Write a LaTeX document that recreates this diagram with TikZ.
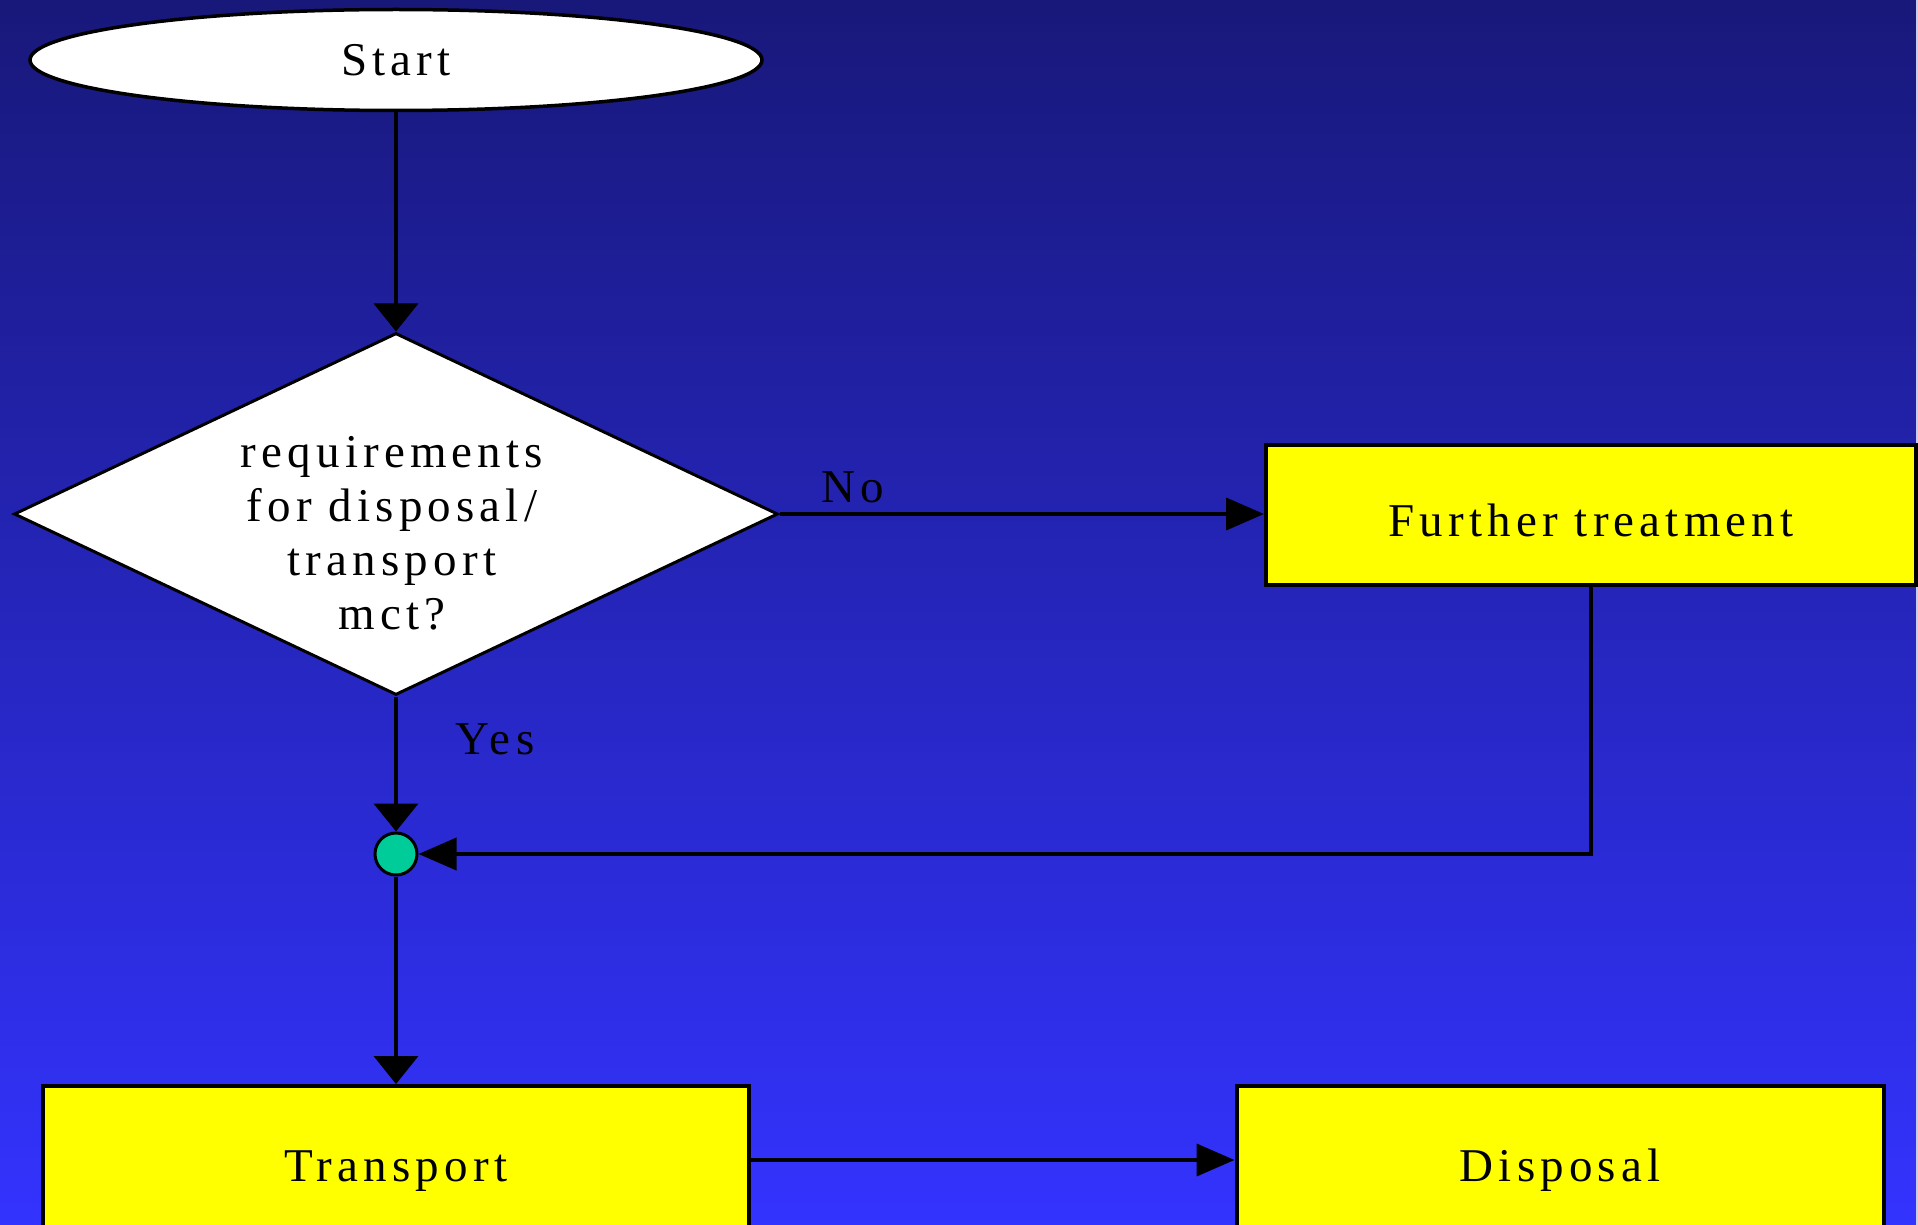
\documentclass[tikz,border=0pt]{standalone}
\usepackage{fontspec}
\setmainfont{Liberation Serif}[LetterSpace=11]
\usetikzlibrary{shapes.geometric,arrows.meta}
\definecolor{bgtop}{RGB}{24,24,122}
\definecolor{bgbot}{RGB}{51,51,255}
\definecolor{boxyellow}{RGB}{255,255,0}
\definecolor{jointeal}{RGB}{0,204,153}
\definecolor{edgestripe}{RGB}{200,204,238}
\tikzset{
  basefont/.style={font=\fontsize{47}{54}\selectfont},
  startshape/.style={ellipse,draw=black,fill=white,line width=3.5pt,minimum width=732pt,minimum height=101pt,inner sep=0pt,basefont},
  decshape/.style={diamond,draw=black,fill=white,line width=3pt,minimum width=764pt,minimum height=362pt,inner sep=0pt},
  dectext/.style={align=center,inner sep=0pt,basefont},
  procbox/.style={rectangle,draw=black,fill=boxyellow,line width=4pt,inner sep=0pt,text height=43pt,text depth=0pt,basefont},
  joindot/.style={circle,draw=black,fill=jointeal,line width=3pt,minimum size=42pt,inner sep=0pt},
  lbl/.style={inner sep=0pt,basefont,text=black},
  conn/.style={draw=black,line width=4pt},
  vtip/.style={-{Triangle[length=28pt,width=44pt]}},
  htip/.style={-{Triangle[length=38pt,width=32pt]}}
}
\begin{document}
\begin{tikzpicture}[x=1pt,y=-1pt]
\shade[top color=bgtop,bottom color=bgbot] (0,0) rectangle (1918,1225);
\useasboundingbox (0,0) rectangle (1918,1225);
\fill[edgestripe] (1916,0) rectangle (1918,1225);

\node[startshape] (start) at (396,60) {Start};
\node[decshape] (dec) at (396,514) {};
\node[dectext] (dtext) at (392,533) {requirements\\for disposal/\\transport\\mct?};
\node[procbox,minimum width=650pt,minimum height=140pt] (ft) at (1591,515) {Further treatment};
\node[joindot] (join) at (396,854) {};
\node[procbox,minimum width=706pt,minimum height=148pt] (tr) at (396,1160) {Transport};
\node[procbox,minimum width=647pt,minimum height=148pt] (dis) at (1560,1160) {Disposal};
\node[lbl] (no) at (853,487) {No};
\node[lbl] (yes) at (495,739) {Yes};

\draw[conn,vtip] (start) -- (dec);
\draw[conn,htip] (dec.east) -- (dec.east -| ft.west);
\draw[conn,vtip] (dec) -- (join);
\draw[conn,htip] (ft.south) |- (join.east);
\draw[conn,vtip] (join) -- (tr);
\draw[conn,htip] (tr) -- (dis);
\end{tikzpicture}
\end{document}
